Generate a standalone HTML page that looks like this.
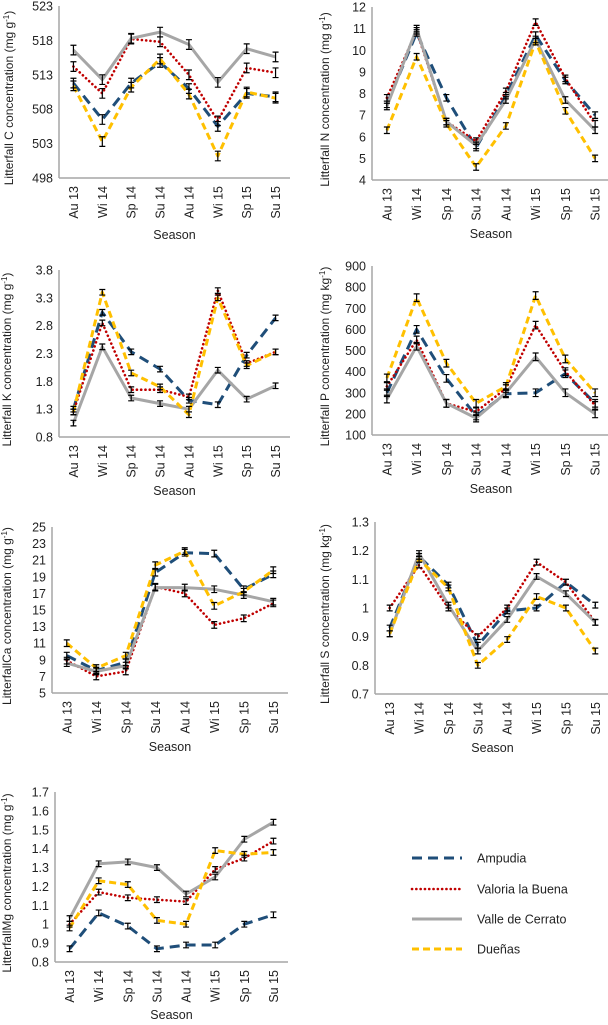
<!DOCTYPE html>
<html><head><meta charset="utf-8"><style>
html,body{margin:0;padding:0;background:#fff;}
svg{display:block;font-family:"Liberation Sans",Arial,sans-serif;}
</style></head><body>
<svg id="fig" width="608" height="1025" viewBox="0 0 608 1025" xmlns="http://www.w3.org/2000/svg"></svg>
<script>
const seasons = ["Au 13","Wi 14","Sp 14","Su 14","Au 14","Wi 15","Sp 15","Su 15"];
const siteNames = ["Ampudia","Valoria la Buena","Valle de Cerrato","Dueñas"];

const C_ampudia = [511.8,506.5,511.8,514.8,511,505.5,510.3,509.8];
const C_valoria = [514.2,510.3,518.2,517.8,513,506.3,514,513.3];
const C_valle   = [516.6,512.3,518.3,519.2,517.4,511.9,516.8,515.6];
const C_duenas  = [511.4,503.3,511.2,515.3,510.2,501.2,510.5,509.6];
const C_ticks = [498,503,508,513,518,523];

const N_ampudia = [7.5,10.8,7.8,5.5,7.9,10.7,8.6,7.0];
const N_valoria = [7.8,10.9,6.7,5.8,8.1,11.3,8.7,6.6];
const N_valle   = [7.4,11.0,6.7,5.6,7.7,10.5,7.7,6.3];
const N_duenas  = [6.3,9.7,6.6,4.6,6.5,10.4,7.2,5.0];
const N_ticks = [4,5,6,7,8,9,10,11,12];

const K_ampudia = [1.3,3.04,2.33,2.02,1.46,1.38,2.27,2.94];
const K_valoria = [1.25,2.85,1.65,1.65,1.52,3.43,2.12,2.33];
const K_valle   = [1.05,2.42,1.5,1.4,1.3,2.0,1.48,1.72];
const K_duenas  = [1.25,3.4,1.95,1.7,1.2,3.3,2.08,2.33];
const K_ticks = [0.8,1.3,1.8,2.3,2.8,3.3,3.8];

const P_ampudia = [300,600,368,190,295,300,390,250];
const P_valoria = [330,550,250,210,320,620,400,240];
const P_valle   = [270,520,250,180,300,470,300,200];
const P_duenas  = [370,750,440,250,330,760,460,300];
const P_ticks = [100,200,300,400,500,600,700,800,900];

const Ca_ampudia = [9.5,7.7,8.7,19.5,21.9,21.8,17.5,19.3];
const Ca_valoria = [8.9,7.0,7.6,17.8,17.0,13.2,14.0,15.8];
const Ca_valle   = [8.6,7.6,8.3,17.7,17.7,17.5,16.8,16.0];
const Ca_duenas  = [11.0,8.0,9.5,20.4,22.1,15.5,17.2,19.8];
const Ca_ticks = [5,7,9,11,13,15,17,19,21,23,25];

const S_ampudia = [0.93,1.18,1.08,0.87,0.99,1.0,1.09,1.01];
const S_valoria = [1.0,1.15,1.0,0.9,1.0,1.16,1.09,0.95];
const S_valle   = [0.91,1.19,1.01,0.85,0.96,1.11,1.05,0.95];
const S_duenas  = [0.91,1.17,1.07,0.8,0.89,1.04,1.0,0.85];
const S_ticks = [0.7,0.8,0.9,1,1.1,1.2,1.3];

const Mg_ampudia = [0.87,1.06,0.99,0.87,0.89,0.89,1.0,1.05];
const Mg_valoria = [1.0,1.17,1.14,1.13,1.12,1.29,1.35,1.44];
const Mg_valle   = [1.03,1.32,1.33,1.3,1.16,1.25,1.45,1.54];
const Mg_duenas  = [0.98,1.23,1.21,1.02,1.0,1.39,1.37,1.38];
const Mg_ticks = [0.8,0.9,1,1.1,1.2,1.3,1.4,1.5,1.6,1.7];

const styles = [
  {stroke:"#1f4e79", w:3, dash:"10,6", cap:"butt"},
  {stroke:"#c00000", w:2.6, dash:"0.1,4.2", cap:"round"},
  {stroke:"#a6a6a6", w:3, dash:"", cap:"butt"},
  {stroke:"#ffc000", w:3, dash:"7,4", cap:"butt"}
];

const NS = "http://www.w3.org/2000/svg";
const svg = document.getElementById("fig");
function mk(tag, attrs, parent){
  const e = document.createElementNS(NS, tag);
  for (const k in attrs) e.setAttribute(k, attrs[k]);
  (parent||svg).appendChild(e);
  return e;
}

const panels = [
  {key:"c", label:"Litterfall C concentration (mg g", unit:"-1", ticks:C_ticks, series:[C_ampudia,C_valoria,C_valle,C_duenas], ax:59, right:290, top:6, bot:178, tx:9, err:0.7, so:61},
  {key:"n", label:"Litterfall N concentration (mg g", unit:"-1", ticks:N_ticks, series:[N_ampudia,N_valoria,N_valle,N_duenas], ax:372, right:610, top:7, bot:180, tx:325, err:0.15, so:58},
  {key:"k", label:"Litterfall K concentration (mg g", unit:"-1", ticks:K_ticks, series:[K_ampudia,K_valoria,K_valle,K_duenas], ax:59, right:290, top:270, bot:437, tx:7, err:0.05, so:58},
  {key:"p", label:"Litterfall P concentration (mg kg", unit:"-1", ticks:P_ticks, series:[P_ampudia,P_valoria,P_valle,P_duenas], ax:372, right:610, top:266, bot:435, tx:325, err:18, so:58},
  {key:"ca", label:"LitterfallCa concentration (mg g", unit:"-1", ticks:Ca_ticks, series:[Ca_ampudia,Ca_valoria,Ca_valle,Ca_duenas], ax:52, right:288, top:527, bot:693, tx:7, err:0.4, so:58},
  {key:"s", label:"Litterfall S concentration (mg kg", unit:"-1", ticks:S_ticks, series:[S_ampudia,S_valoria,S_valle,S_duenas], ax:375, right:610, top:522, bot:694, tx:325, err:0.01, so:58},
  {key:"mg", label:"LitterfallMg concentration (mg g", unit:"-1", ticks:Mg_ticks, series:[Mg_ampudia,Mg_valoria,Mg_valle,Mg_duenas], ax:55, right:288, top:792, bot:962, tx:7, err:0.015, so:57}
];

panels.forEach(p => {
  const g = mk("g", {});
  
  
  const min = p.ticks[0], max = p.ticks[p.ticks.length-1];
  const yS = v => p.bot - (v - min) / (max - min) * (p.bot - p.top);
  const step = (p.right - p.ax) / seasons.length;
  const xS = i => p.ax + step * (i + 0.5);
  const ya = mk("line", {x1:p.ax, y1:p.top, x2:p.ax, y2:p.bot, stroke:"#a6a6a6", "stroke-width":1.5}, g);
  
  
  const xa = mk("line", {x1:p.ax, y1:p.bot, x2:p.right, y2:p.bot, stroke:"#a6a6a6", "stroke-width":1.5}, g);
  
  
  p.ticks.forEach(t => {
    const tl = mk("text", {x:p.ax-6, y:yS(t)+4.5, "text-anchor":"end", "font-size":12.5, fill:"#222"}, g);
    tl.textContent = String(t);
    
    
  });
  seasons.forEach((s, i) => {
    const x = xS(i), y = p.bot + 8;
    const xl = mk("text", {x:x+4.5, y:y, "text-anchor":"end", "font-size":12.5, fill:"#222", transform:`rotate(-90 ${x+4.5} ${y})`}, g);
    xl.textContent = s;
    
    
  });
  const xt = mk("text", {x:(p.ax+p.right)/2, y:p.bot+p.so, "text-anchor":"middle", "font-size":12.5, fill:"#222"}, g);
  xt.textContent = "Season";
  
  
  const cy = (p.top + p.bot) / 2 + 6;
  const yt = mk("text", {x:p.tx+4, y:cy, "text-anchor":"middle", "font-size":12, fill:"#222", transform:`rotate(-90 ${p.tx+4} ${cy})`}, g);
  
  
  const t1 = mk("tspan", {}, yt); t1.textContent = p.label;
  const t2 = mk("tspan", {"baseline-shift":"super", "font-size":8}, yt); t2.textContent = p.unit;
  const t3 = mk("tspan", {}, yt); t3.textContent = ")";
  p.series.forEach((vals, si) => {
    const st = styles[si];
    const pts = vals.map((v, i) => xS(i).toFixed(1) + "," + yS(v).toFixed(1)).join(" ");
    const line = mk("polyline", {points:pts, fill:"none", stroke:st.stroke, "stroke-width":st.w, "stroke-dasharray":st.dash, "stroke-linecap":st.cap, "stroke-linejoin":"round"}, g);
    
    
  });
  p.series.forEach(vals => {
    vals.forEach((v, i) => {
      const x = xS(i), y1 = yS(v + p.err), y2 = yS(v - p.err);
      const eb = mk("path", {d:`M${x-3},${y1}H${x+3}M${x},${y1}V${y2}M${x-3},${y2}H${x+3}`, stroke:"#000", "stroke-width":1.2, fill:"none"}, g);
      
      
    });
  });
});

const lg = mk("g", {});


const legY = [858, 889, 919, 949];
siteNames.forEach((n, i) => {
  const st = styles[i];
  const ln = mk("line", {x1:412, y1:legY[i], x2:462, y2:legY[i], stroke:st.stroke, "stroke-width":st.w, "stroke-dasharray":st.dash, "stroke-linecap":st.cap}, lg);
  
  
  const tx = mk("text", {x:477, y:legY[i]+4.5, "font-size":12.5, fill:"#222"}, lg);
  tx.textContent = n;
  
  
});
</script>
</body></html>
